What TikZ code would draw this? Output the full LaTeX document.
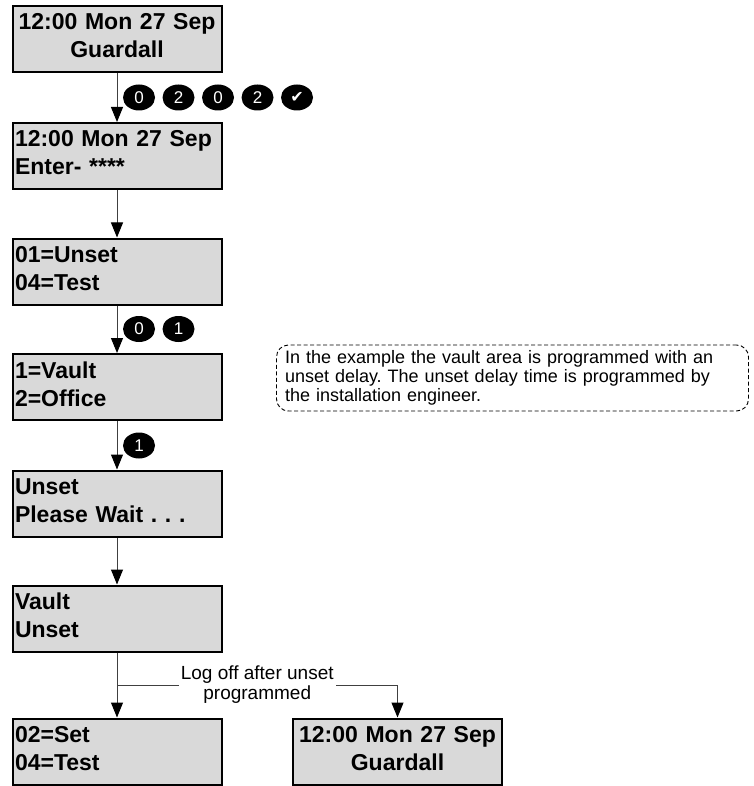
\documentclass[tikz,border=0pt]{standalone}
\usepackage{fontspec}
\setmainfont{Liberation Sans}
\newfontfamily\symfont{DejaVu Sans}
\usetikzlibrary{arrows.meta,shapes.geometric}
\definecolor{lcdgray}{HTML}{D9D9D9}
\definecolor{linegray}{HTML}{404040}
\newcommand\lcdtop{\rule{0pt}{17pt}}
\newcommand\lcdbot{\rule[-7pt]{0pt}{7pt}}
\newcommand\notetop{\rule{0pt}{13.5pt}}
\newcommand\notebot{\rule[-4pt]{0pt}{4pt}}
\frenchspacing
\tikzset{
  lcd/.style={draw=black, line width=2pt, fill=lcdgray, minimum width=209pt,
    minimum height=66pt, inner xsep=2pt, inner ysep=0pt, text width=204pt,
    font=\bfseries\fontsize{23}{28}\selectfont},
  lcdl/.style={lcd, align=left},
  lcdc/.style={lcd, align=center},
  keycap/.style={ellipse, fill=black, text=white, minimum width=32pt,
    minimum height=26pt, inner sep=0pt, font=\fontsize{17}{17}\selectfont},
  flow/.style={draw=linegray, line width=1pt,
    -{Triangle[width=12pt,length=15pt,color=black]}},
  notebox/.style={draw=black, line width=0.9pt, dash pattern=on 4pt off 2.5pt,
    rounded corners=12pt, minimum width=472pt, minimum height=66pt,
    text width=455pt, inner xsep=8.5pt, inner ysep=0pt, align=left,
    font=\fontsize{18}{19}\selectfont},
  lbl/.style={fill=white, inner xsep=2pt, inner ysep=1pt, align=center,
    font=\fontsize{19}{20}\selectfont}
}
\begin{document}
\begin{tikzpicture}[x=1pt,y=-1pt]
\useasboundingbox (0,0) rectangle (753,786);

\node[lcdc] (b1) at (117,39)    {\lcdtop 12:00 Mon 27 Sep\\Guardall\lcdbot};
\node[lcdl] (b2) at (117,156)   {\lcdtop 12:00 Mon 27 Sep\\Enter- ****\lcdbot};
\node[lcdl] (b3) at (117,271.5) {\lcdtop 01=Unset\\04=Test\lcdbot};
\node[lcdl] (b4) at (117,387)   {\lcdtop 1=Vault\\2=Office\lcdbot};
\node[lcdl] (b5) at (117,503.5) {\lcdtop Unset\\Please Wait . . .\lcdbot};
\node[lcdl] (b6) at (117,618.5) {\lcdtop Vault\\Unset\lcdbot};
\node[lcdl] (b7) at (117,751.5) {\lcdtop 02=Set\\04=Test\lcdbot};
\node[lcdc] (b8) at (397.5,751.5) {\lcdtop 12:00 Mon 27 Sep\\Guardall\lcdbot};

\node[notebox] (note) at (512.5,378) {\notetop In the example the vault area is programmed with an\\unset delay. The unset delay time is programmed by\\the installation engineer.\notebot};

\draw[flow] (b1.south) -- (b2.north);
\draw[flow] (b2.south) -- (b3.north);
\draw[flow] (b3.south) -- (b4.north);
\draw[flow] (b4.south) -- (b5.north);
\draw[flow] (b5.south) -- (b6.north);
\draw[flow] (b6.south) -- (b7.north);

\coordinate (br) at (117,685);
\coordinate (bc) at (397.5,685);
\draw[flow] (br) -- node[lbl] (lg) {Log off after unset\\programmed} (bc) -- (b8.north);

\node[keycap] (k1) at (139,97.5)   {0};
\node[keycap] (k2) at (178.5,97.5) {2};
\node[keycap] (k3) at (218,97.5)   {0};
\node[keycap] (k4) at (257.5,97.5) {2};
\node[keycap] (k5) at (297,97.5)   {\symfont\fontsize{16}{16}\selectfont ✔};

\node[keycap] (k6) at (139,329)    {0};
\node[keycap] (k7) at (178.5,329)  {1};

\node[keycap] (k8) at (139,445.5)  {1};
\end{tikzpicture}
\end{document}
